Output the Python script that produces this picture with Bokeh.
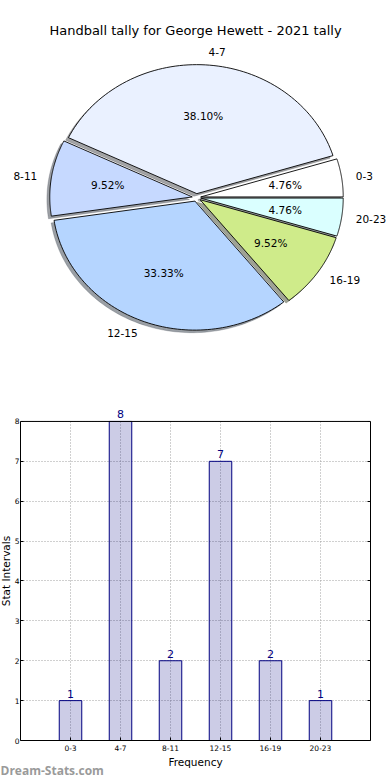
import numpy as np
from bokeh.plotting import figure
from bokeh.models import (Range1d, FactorRange, LabelSet, ColumnDataSource,
                          LinearAxis, FixedTicker, Span)
from bokeh.embed import file_html
from bokeh.resources import INLINE
from bokeh.core.properties import value

# ---------------- data ----------------
chart_title = "Handball tally for George Hewett - 2021 tally"
categories = ["0-3", "4-7", "8-11", "12-15", "16-19", "20-23"]
counts = [1, 8, 2, 7, 2, 1]
slice_colors = ["#ffffff", "#eaf1ff", "#c6d9ff", "#b5d5ff", "#cfeb8a", "#daffff"]
x_label = "Frequency"
y_label = "Stat Intervals"
y_ticks = [0, 1, 2, 3, 4, 5, 6, 7, 8]
watermark = "Dream-Stats.com"

FONT = "DejaVu Sans"
W = 390
PIE_H = 398
BAR_H = 382
SHIFT = 4      # bar figure pulled left so its frame starts near where the reference's does
WM_H = 22

# ---------------- pie ----------------
# pie centre / radii in page pixels (layout), pie drawn in unit-radius coordinates
CX, CY, RX, RY = 196.0, 197.0, 142.5, 129.0
xr = Range1d((0 - CX) / RX, (W - CX) / RX)
yr = Range1d((CY - PIE_H) / RY, CY / RY)

pie = figure(width=W, height=PIE_H, x_range=xr, y_range=yr, output_backend="svg",
             toolbar_location=None, x_axis_location=None, y_axis_location=None,
             min_border=0, outline_line_color=None, background_fill_color="white",
             border_fill_color="white")
pie.grid.visible = False

vals = np.array(counts, dtype=float)
fracs = vals / vals.sum()
ends = np.cumsum(fracs) * 2 * np.pi
starts = ends - fracs * 2 * np.pi
explode = 0.03

xs, ys, sxs, sys_, shadow_cols = [], [], [], [], []
lab_x, lab_y, lab_align, pct_x, pct_y, pct_text = [], [], [], [], [], []
for s, e, f, col in zip(starts, ends, fracs, slice_colors):
    mid = 0.5 * (s + e)
    ox, oy = explode * np.cos(mid), explode * np.sin(mid)
    t = np.linspace(s, e, 80)
    px = np.concatenate([[ox], ox + np.cos(t)])
    py = np.concatenate([[oy], oy + np.sin(t)])
    xs.append(list(px)); ys.append(list(py))
    sxs.append(list(px - 0.02)); sys_.append(list(py - 0.02))
    c = col.lstrip("#")
    rgb = [int(c[i:i + 2], 16) for i in (0, 2, 4)]
    shadow_cols.append("#%02x%02x%02x" % tuple(int(0.3 * v) for v in rgb))
    lx = ox + 1.1 * np.cos(mid)
    ly = oy + 1.1 * np.sin(mid)
    lab_x.append(lx); lab_y.append(ly)
    lab_align.append("left" if lx > 0 else "right")
    pct_x.append(ox + 0.6 * np.cos(mid)); pct_y.append(oy + 0.6 * np.sin(mid))
    pct_text.append("%.2f%%" % (f * 100))

pie.patches(xs=sxs, ys=sys_, fill_color=shadow_cols, fill_alpha=0.5,
            line_color=shadow_cols, line_alpha=0.5, line_width=0.5)
pie.patches(xs=xs, ys=ys, fill_color=slice_colors, line_color="black", line_width=0.9)

lab_src = ColumnDataSource(dict(x=lab_x, y=lab_y, t=categories, a=lab_align))
pie.text(x="x", y="y", text="t", text_align="a", source=lab_src, text_baseline="middle",
         text_font=value(FONT), text_font_size="10.5px", text_color="black")
pct_src = ColumnDataSource(dict(x=pct_x, y=pct_y, t=pct_text))
pie.text(x="x", y="y", text="t", source=pct_src, text_align="center", text_baseline="middle",
         text_font=value(FONT), text_font_size="10.5px", text_color="black")
pie.text(x=[(195 - CX) / RX], y=[(CY - 30) / RY], text=[chart_title], text_align="center",
         text_baseline="middle", text_font=value(FONT), text_font_size="13px",
         text_color="black")

# ---------------- bar ----------------
Y_HEAD = 8.5   # headroom above the top spine for the value labels
bar = figure(width=W + SHIFT, height=BAR_H, output_backend="svg", toolbar_location=None,
             x_range=FactorRange(*categories, range_padding=0.5, range_padding_units="absolute"),
             y_range=Range1d(0, Y_HEAD), min_border_top=3, min_border_right=20,
             min_border_left=19, min_border_bottom=40,
             outline_line_color=None,
             background_fill_color="white", border_fill_color="white",
             styles={"margin-left": "-%dpx" % SHIFT})

bsrc = ColumnDataSource(dict(cat=categories, n=counts, lbl=[str(v) for v in counts],
                             y0=[y_ticks[0]] * len(categories),
                             y1=[y_ticks[-1]] * len(categories)))
# vertical dotted grid lines at the category centres (only up to the top spine)
bar.segment(x0="cat", y0="y0", x1="cat", y1="y1", source=bsrc, line_color="#a0a0a0",
            line_dash="1 2", line_width=1)
bar.vbar(x="cat", top="n", width=0.45, source=bsrc, fill_color="navy", fill_alpha=0.2,
         line_color="navy", line_width=1)
bar.add_layout(LabelSet(x="cat", y="n", text="lbl", source=bsrc, y_offset=3,
                        text_align="center", text_baseline="bottom",
                        text_font=value(FONT), text_font_size="11px", text_color="navy"))
bar.add_layout(Span(location=y_ticks[-1], dimension="width", line_color="black",
                    line_width=1))

bar.yaxis.ticker = FixedTicker(ticks=y_ticks)
bar.yaxis.bounds = (y_ticks[0], y_ticks[-1])
for ax in (bar.xaxis[0], bar.yaxis[0]):
    ax.major_label_text_font = FONT
    ax.major_label_text_font_size = "7.5px"
    ax.major_label_text_color = "black"
    ax.major_tick_in = 3
    ax.major_tick_out = 0
    ax.minor_tick_line_color = None
    ax.axis_line_color = "black"
    ax.major_tick_line_color = "black"
    ax.axis_label_text_font = FONT
    ax.axis_label_text_font_size = "10.5px"
    ax.axis_label_text_font_style = "normal"
    ax.axis_label_text_color = "black"
    ax.axis_label_standoff = 0
    ax.axis_label_text_line_height = 1.0
bar.yaxis.major_label_standoff = 1
bar.xaxis.major_label_standoff = 4
bar.xaxis.axis_label_standoff = 2
bar.xaxis.axis_label = x_label
bar.yaxis.axis_label = y_label

rax = LinearAxis(ticker=FixedTicker(ticks=y_ticks), bounds=(y_ticks[0], y_ticks[-1]),
                 major_label_text_color=None,
                 major_label_text_font_size="7.5px", major_label_standoff=0,
                 major_tick_in=3, major_tick_out=0, minor_tick_line_color=None,
                 axis_line_color="black")
bar.add_layout(rax, "right")

bar.xgrid.visible = False
bar.ygrid.grid_line_color = "#a0a0a0"
bar.ygrid.grid_line_dash = "1 2"
bar.ygrid.grid_line_width = 1

# ---------------- watermark strip (overlaps the bar figure's empty bottom-left) ----------------
wm = figure(width=130, height=WM_H, x_range=Range1d(0, 1), y_range=Range1d(0, 1),
            output_backend="svg", toolbar_location=None, x_axis_location=None,
            y_axis_location=None, min_border=0, outline_line_color=None,
            background_fill_color=None, border_fill_color=None,
            styles={"margin-top": "-%dpx" % WM_H})
wm.grid.visible = False
wm.text(x=[0], y=[0.45], text=[watermark], text_baseline="middle", text_align="left",
        text_font=value("Open Sans"), text_font_style="bold", text_font_size="12px",
        text_color="#9a9a9a")

open("out.html", "w").write(file_html([pie, bar, wm], INLINE))
